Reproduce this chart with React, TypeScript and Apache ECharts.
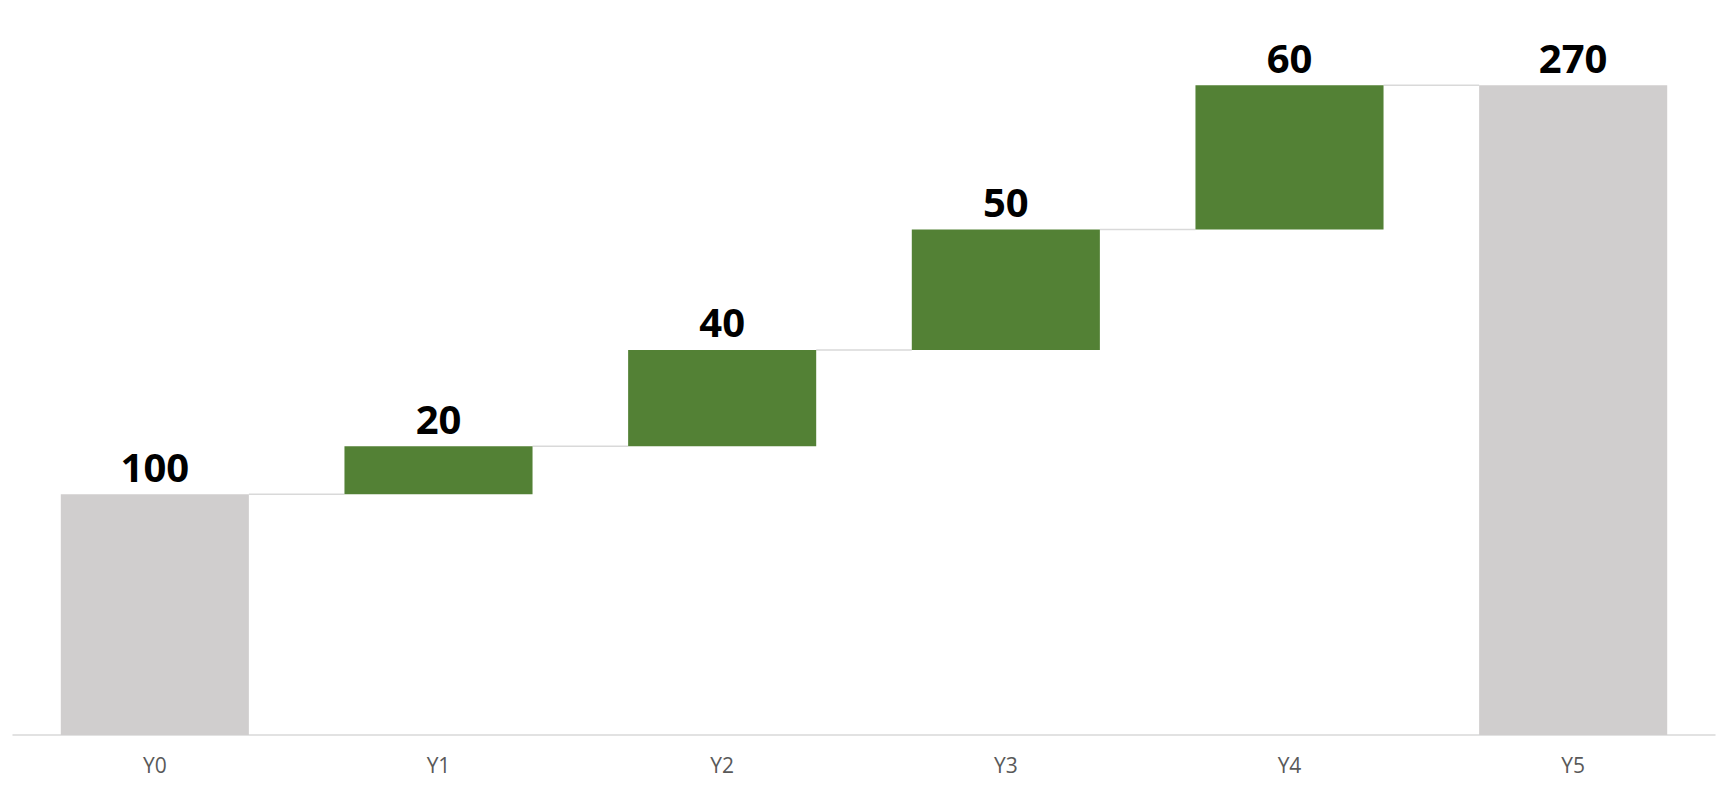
import { useEffect, useRef } from 'react';
import * as echarts from 'echarts';

const categories = ['Y0', 'Y1', 'Y2', 'Y3', 'Y4', 'Y5'];
const values = [100, 20, 40, 50, 60, 270];
const isTotal = [true, false, false, false, false, true];

const GREEN = '#538135';
const GREY = '#d0cece';
const BAR_RATIO = 0.663;

export default function App() {
  const chartRef = useRef<HTMLDivElement>(null);

  useEffect(() => {
    document.body.style.margin = '0';
    if (!chartRef.current) return;
    const chart = echarts.init(chartRef.current, null, { renderer: 'svg' });

    // invisible base under each step, and the running level after each bar
    let running = 0;
    const base: number[] = [];
    const levels: number[] = [];
    values.forEach((v, i) => {
      if (isTotal[i]) {
        base.push(0);
        running = v;
      } else {
        base.push(running);
        running += v;
      }
      levels.push(running);
    });

    const connectors = levels.slice(0, -1).map((lv, i) => [i, lv]);

    const option: echarts.EChartsOption = {
      animation: false,
      backgroundColor: '#ffffff',
      grid: { left: 13, right: 15, top: 13, bottom: 56, containLabel: false },
      xAxis: {
        type: 'category',
        data: categories,
        axisLine: { lineStyle: { color: '#d9d9d9', width: 1.5 } },
        axisTick: { show: false },
        axisLabel: {
          color: '#595959',
          fontSize: 21,
          fontFamily: 'Open Sans',
          margin: 19,
        },
      },
      yAxis: {
        type: 'value',
        min: 0,
        max: 300,
        show: false,
        splitLine: { show: false },
      },
      series: [
        {
          type: 'bar',
          stack: 'wf',
          data: base,
          itemStyle: { color: 'transparent' },
          barCategoryGap: '33.7%',
          silent: true,
        },
        {
          type: 'bar',
          stack: 'wf',
          data: values.map((v, i) => ({
            value: v,
            itemStyle: { color: isTotal[i] ? GREY : GREEN },
          })),
          barCategoryGap: '33.7%',
          label: {
            show: true,
            position: 'top',
            distance: 8,
            color: '#000000',
            fontSize: 40,
            fontWeight: 'bold',
            fontFamily: 'Open Sans',
          },
        },
        {
          type: 'custom',
          data: connectors,
          renderItem: (params: any, api: any) => {
            const idx = api.value(0);
            const lv = api.value(1);
            const band = api.size([1, 0])[0];
            const half = (band * BAR_RATIO) / 2;
            const p1 = api.coord([idx, lv]);
            const p2 = api.coord([idx + 1, lv]);
            return {
              type: 'line',
              shape: { x1: p1[0] + half, y1: p1[1], x2: p2[0] - half, y2: p2[1] },
              style: { stroke: '#d9d9d9', lineWidth: 1.5 },
            };
          },
          z: 1,
        },
      ],
    };

    chart.setOption(option);
    return () => chart.dispose();
  }, []);

  return <div ref={chartRef} style={{ width: 1730, height: 791 }} />;
}
